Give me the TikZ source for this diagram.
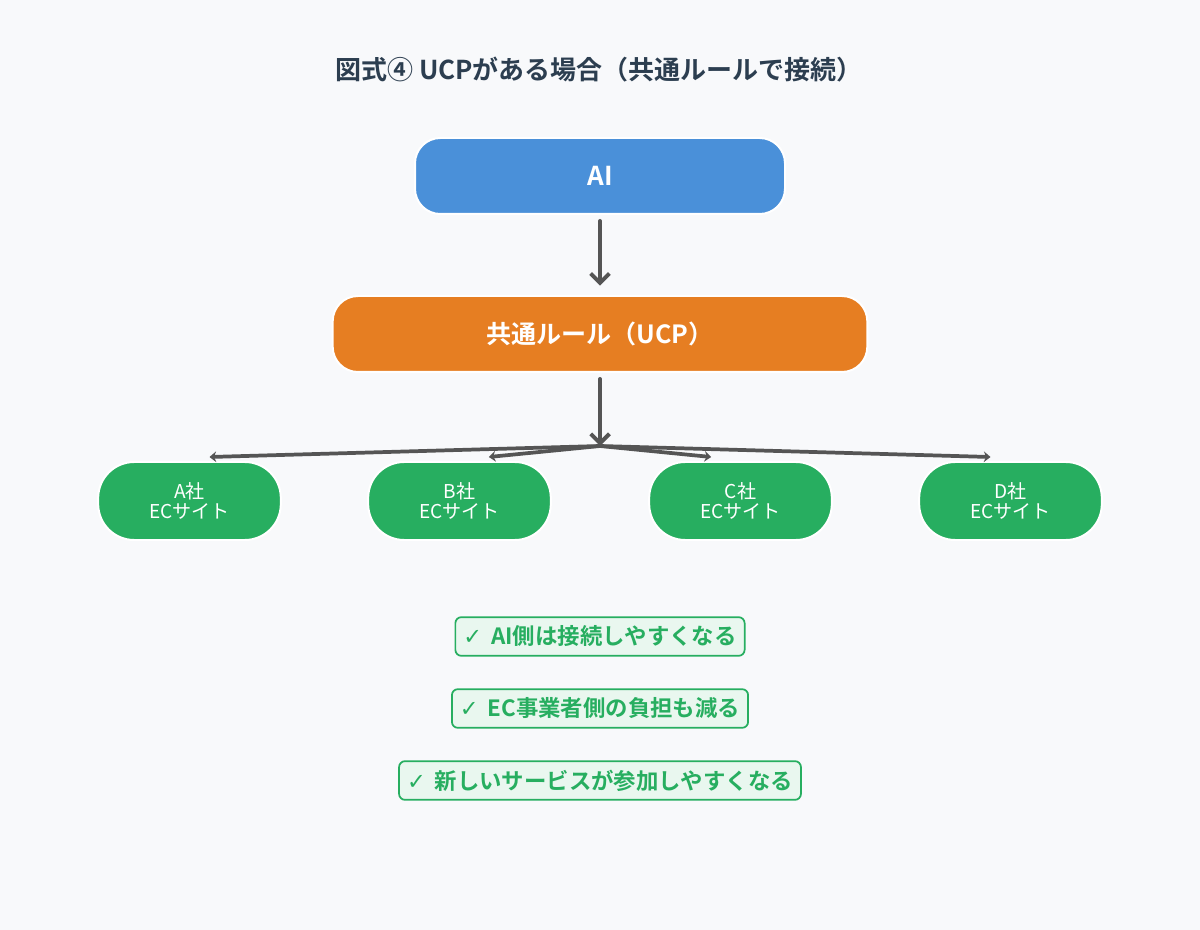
\documentclass[tikz,border=0pt]{standalone}
\usepackage{fontspec}
\setmainfont{Noto Sans CJK JP}[BoldFont={Noto Sans CJK JP Bold}]
\newfontfamily\chk{DejaVu Sans}
\usetikzlibrary{arrows.meta}
\definecolor{bg}{HTML}{F8F9FB}
\definecolor{ttl}{HTML}{2C3E50}
\definecolor{aiblue}{HTML}{4A90D9}
\definecolor{ucporange}{HTML}{E67E22}
\definecolor{ecgreen}{HTML}{27AE60}
\definecolor{chkfill}{HTML}{E9F7EF}
\definecolor{arrgray}{HTML}{555555}
\tikzset{
  x=0.75pt, y=-0.75pt,
  topbox/.style={draw=white, line width=1.5pt, rounded corners=19pt, inner sep=0pt, text=white, font=\bfseries},
  sitebox/.style={draw=white, line width=1.5pt, fill=ecgreen, rounded corners=27pt, minimum width=137pt, minimum height=58.5pt, inner sep=0pt, text=white, align=center, font=\fontsize{14.3pt}{15pt}\selectfont},
  chkbox/.style={draw=ecgreen, line width=1.3pt, fill=chkfill, rounded corners=4.5pt, minimum height=29pt, inner xsep=6pt, inner ysep=0pt, text=ecgreen, font=\bfseries\fontsize{16.8pt}{17pt}\selectfont},
  mainarrow/.style={draw=arrgray, line width=3pt, line cap=round, -{Straight Barb[length=7pt,width=14pt,line width=3pt]}},
  fanarrow/.style={draw=arrgray, line width=2.8pt, line cap=round, -{Stealth[length=5pt,width=8pt]}}
}
\begin{document}
\begin{tikzpicture}
\fill[bg] (0,0) rectangle (1200,930);
\useasboundingbox (0,0) rectangle (1200,930);
\node[text=ttl, font=\bfseries\fontsize{19.5pt}{20pt}\selectfont] (title) at (599,70) {図式④ UCPがある場合（共通ルールで接続）};
\node[topbox, fill=aiblue, minimum width=277.5pt, minimum height=57pt, font=\bfseries\fontsize{19.5pt}{20pt}\selectfont] (ai) at (600,176) {AI};
\node[topbox, fill=ucporange, minimum width=401pt, minimum height=57pt, font=\bfseries\fontsize{18.8pt}{19pt}\selectfont] (ucp) at (600,334) {共通ルール（UCP）};
\node[sitebox] (a) at (189.5,501) {A社\\ECサイト};
\node[sitebox] (b) at (459.5,501) {B社\\ECサイト};
\node[sitebox] (c) at (740.5,501) {C社\\ECサイト};
\node[sitebox] (d) at (1010.5,501) {D社\\ECサイト};
\coordinate (hub) at (600,446);
\draw[mainarrow] ([yshift=-4.5pt]ai.south) -- ([yshift=7pt]ucp.north);
\draw[mainarrow] ([yshift=-4.5pt]ucp.south) -- (hub);
\draw[fanarrow] (hub) -- ([xshift=15pt,yshift=3pt]a.north);
\draw[fanarrow] (hub) -- ([xshift=22pt,yshift=3pt]b.north);
\draw[fanarrow] (hub) -- ([xshift=-22pt,yshift=3pt]c.north);
\draw[fanarrow] (hub) -- ([xshift=-15pt,yshift=3pt]d.north);
\node[chkbox] (k1) at (600,636.5) {{\chk\mdseries ✓}\hspace{0.4em}AI側は接続しやすくなる};
\node[chkbox] (k2) at (600,708.5) {{\chk\mdseries ✓}\hspace{0.4em}EC事業者側の負担も減る};
\node[chkbox] (k3) at (600,780.5) {{\chk\mdseries ✓}\hspace{0.4em}新しいサービスが参加しやすくなる};
\end{tikzpicture}
\end{document}
